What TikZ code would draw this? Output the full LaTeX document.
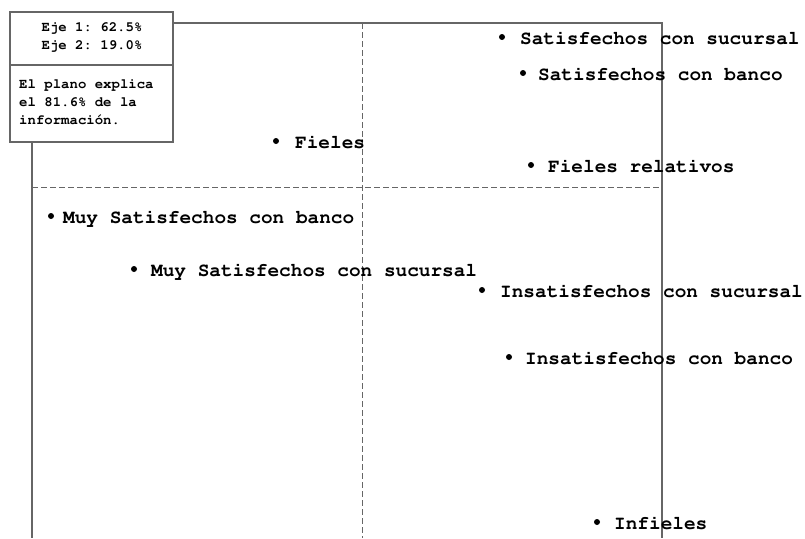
\documentclass[tikz,border=0pt]{standalone}
\usepackage[T1]{fontenc}
\usepackage{courier}
\frenchspacing
\begin{document}
\begin{tikzpicture}[x=1pt,y=-1pt,
  frameline/.style={draw=black!60, line width=1.2pt},
  axisline/.style={draw=black!60, line width=0.8pt, dash pattern=on 6pt off 3pt},
  pt/.style={circle, fill=black, inner sep=0pt, minimum size=6pt},
  lbl/.style={anchor=base west, inner sep=0pt, font=\frenchspacing\ttfamily\bfseries\fontsize{19.4}{22}\selectfont},
  boxtxt/.style={inner sep=0pt, font=\frenchspacing\ttfamily\bfseries\fontsize{14}{18}\selectfont}]
\useasboundingbox (0,0) rectangle (805,538);
% frame
\coordinate (ftl) at (173,23);
\coordinate (ftr) at (662,23);
\coordinate (fbr) at (662,538);
\coordinate (flt) at (32,142);
\coordinate (flb) at (32,538);
\draw[frameline] (ftl) -- (ftr) -- (fbr);
\draw[frameline] (flt) -- (flb);
% axes
\coordinate (vt) at (362,23);
\coordinate (vb) at (362,538);
\coordinate (hl) at (32,187);
\coordinate (hr) at (662,187);
\draw[axisline] (vt) -- (vb);
\draw[axisline] (hl) -- (hr);
% info box
\draw[frameline, fill=white] (10,12) rectangle (173,142);
\coordinate (dl) at (10,65);
\coordinate (dr) at (173,65);
\draw[frameline] (dl) -- (dr);
\node[boxtxt, align=center] (eje) at (92,37) {Eje 1: 62.5\%\\Eje 2: 19.0\%};
\node[boxtxt, align=left, anchor=north west] (plano) at (19,79) {El plano explica\\el 81.6\% de la\\informaci\'on.};
% points
\node[pt] (p1) at (502,37) {};
\node[lbl] (l1) at (520,44) {Satisfechos con sucursal};
\node[pt] (p2) at (523,73) {};
\node[lbl] (l2) at (538,80) {Satisfechos con banco};
\node[pt] (p3) at (276,141) {};
\node[lbl] (l3) at (295,148) {Fieles};
\node[pt] (p4) at (531,165) {};
\node[lbl] (l4) at (548,172) {Fieles relativos};
\node[pt] (p5) at (51,216) {};
\node[lbl] (l5) at (63,223) {Muy Satisfechos con banco};
\node[pt] (p6) at (134,269) {};
\node[lbl] (l6) at (151,276) {Muy Satisfechos con sucursal};
\node[pt] (p7) at (482,290) {};
\node[lbl] (l7) at (500,297) {Insatisfechos con sucursal};
\node[pt] (p8) at (509,357) {};
\node[lbl] (l8) at (525,364) {Insatisfechos con banco};
\node[pt] (p9) at (597,522) {};
\node[lbl] (l9) at (614,529) {Infieles};
\end{tikzpicture}
\end{document}
